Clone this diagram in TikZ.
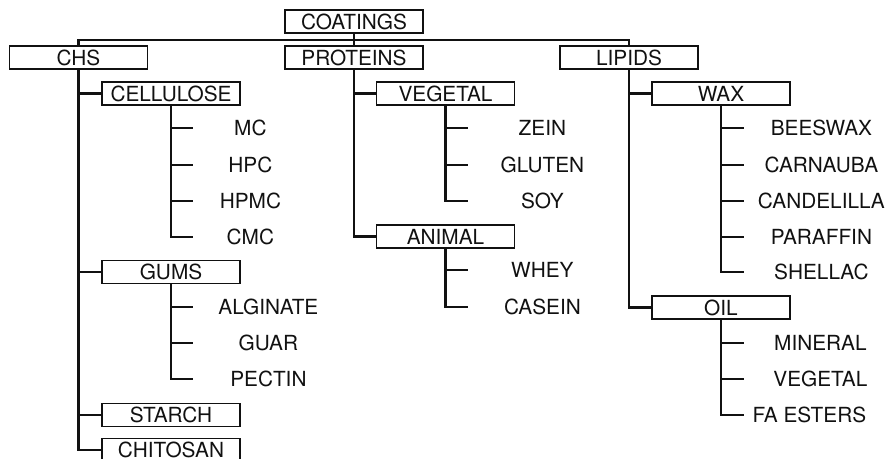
\documentclass[tikz,border=0pt]{standalone}
\usepackage{fontspec}
\setmainfont{TeX Gyre Heros}
\usepackage{tikz}
\usetikzlibrary{positioning}
\definecolor{treeink}{HTML}{111111}

\begin{document}
\begin{tikzpicture}[
  x=0.5pt, y=-0.5pt,
  every node/.style={font=\fontsize{10.4}{12}\selectfont, text=treeink},
  cat/.style={draw=treeink, line width=0.6pt, minimum width=69pt, minimum height=11.5pt, inner sep=0pt},
  leaf/.style={anchor=west, inner sep=0pt, minimum width=#1},
  leaf/.default=74pt,
  link/.style={draw=treeink, line width=1.4pt},
]
  \useasboundingbox (0,0) rectangle (888,459);

  \node[cat] (coat) at (354,21.5) {COATINGS};
  \node[cat] (chs) at (78.5,57.5) {CHS};
  \node[cat] (prot) at (354,57.5) {PROTEINS};
  \node[cat] (lip) at (629,57.5) {LIPIDS};
  \coordinate (bus) at (354,40);

  \node[cat] (cel) at (171,93.5) {CELLULOSE};
  \node[cat] (gums) at (171,272) {GUMS};
  \node[cat] (starch) at (171,415) {STARCH};
  \node[cat] (chit) at (171,450) {CHITOSAN};
  \node[cat] (veg) at (445.5,93.5) {VEGETAL};
  \node[cat] (anim) at (445.5,236.5) {ANIMAL};
  \node[cat] (wax) at (721,93.5) {WAX};
  \node[cat] (oil) at (721,307.5) {OIL};

  \node[leaf=57pt] (mc) at (193,128) {MC};
  \node[leaf=57pt] (hpc) at (193,165) {HPC};
  \node[leaf=57pt] (hpmc) at (193,201) {HPMC};
  \node[leaf=57pt] (cmc) at (193,237) {CMC};
  \node[leaf=75pt] (alg) at (193,307) {ALGINATE};
  \node[leaf=75pt] (guar) at (193,343) {GUAR};
  \node[leaf=75pt] (pect) at (193,379) {PECTIN};
  \node[leaf] (zein) at (468,128) {ZEIN};
  \node[leaf] (glut) at (468,165) {GLUTEN};
  \node[leaf] (soy) at (468,201) {SOY};
  \node[leaf] (whey) at (468,270) {WHEY};
  \node[leaf] (cas) at (468,307) {CASEIN};
  \node[leaf=77pt] (bees) at (744,128) {BEESWAX};
  \node[leaf=77pt] (carn) at (744,165) {CARNAUBA};
  \node[leaf=77pt] (cand) at (744,201) {CANDELILLA};
  \node[leaf=77pt] (para) at (744,237) {PARAFFIN};
  \node[leaf=77pt] (shel) at (744,272) {SHELLAC};
  \node[leaf=76pt] (min) at (744,343) {MINERAL};
  \node[leaf=76pt] (vego) at (744,379) {VEGETAL};
  \node[leaf=65pt] (fae) at (744,415) {FA ESTERS};

  \draw[link] (chs.north) |- (bus) -| (lip.north);
  \draw[link] (coat.south) -- (prot.north);
  \draw[link] (chs.south) |- (cel.west);
  \draw[link] (chs.south) |- (gums.west);
  \draw[link] (chs.south) |- (starch.west);
  \draw[link] (chs.south) |- (chit.west);
  \draw[link] (prot.south) |- (veg.west);
  \draw[link] (prot.south) |- (anim.west);
  \draw[link] (lip.south) |- (wax.west);
  \draw[link] (lip.south) |- (oil.west);
  \draw[link] (cel.south) |- (mc.west);
  \draw[link] (cel.south) |- (hpc.west);
  \draw[link] (cel.south) |- (hpmc.west);
  \draw[link] (cel.south) |- (cmc.west);
  \draw[link] (gums.south) |- (alg.west);
  \draw[link] (gums.south) |- (guar.west);
  \draw[link] (gums.south) |- (pect.west);
  \draw[link] (veg.south) |- (zein.west);
  \draw[link] (veg.south) |- (glut.west);
  \draw[link] (veg.south) |- (soy.west);
  \draw[link] (anim.south) |- (whey.west);
  \draw[link] (anim.south) |- (cas.west);
  \draw[link] (wax.south) |- (bees.west);
  \draw[link] (wax.south) |- (carn.west);
  \draw[link] (wax.south) |- (cand.west);
  \draw[link] (wax.south) |- (para.west);
  \draw[link] (wax.south) |- (shel.west);
  \draw[link] (oil.south) |- (min.west);
  \draw[link] (oil.south) |- (vego.west);
  \draw[link] (oil.south) |- (fae.west);
\end{tikzpicture}
\end{document}
